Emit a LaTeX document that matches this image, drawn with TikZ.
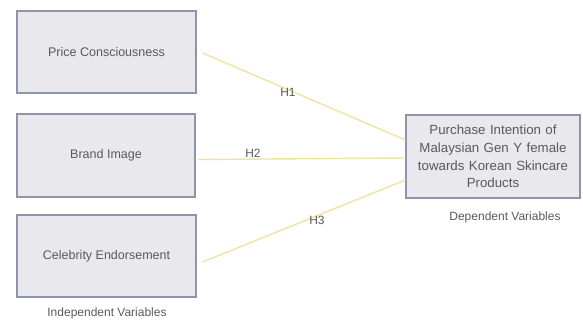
\documentclass[tikz,border=0pt]{standalone}
\usepackage{fontspec}
\setmainfont{Liberation Sans}
\usetikzlibrary{calc}
\definecolor{boxfill}{HTML}{E9E8EC}
\definecolor{boxline}{HTML}{8E94AC}
\definecolor{txt}{HTML}{5A5A5A}
\definecolor{link}{HTML}{EFE3A2}
\tikzset{
  varbox/.style={draw=boxline, line width=1.2pt, fill=boxfill, inner sep=0pt,
    text=txt, font=\fontsize{12.5}{15}\selectfont, align=center},
  lbl/.style={text=txt, font=\fontsize{12}{14}\selectfont, inner sep=1pt},
  hlink/.style={draw=link, line width=1.4pt}
}
\begin{document}
\begin{tikzpicture}[x=1pt,y=-1pt]
\useasboundingbox (0,0) rectangle (583,324);
\node[varbox, minimum width=179pt, minimum height=82pt] (b1) at (106.5,52) {Price Consciousness};
\node[varbox, minimum width=178pt, minimum height=83pt] (b2) at (106,155.5) {Brand Image};
\node[varbox, minimum width=179pt, minimum height=82pt] (b3) at (106.5,256) {Celebrity Endorsement};
\node[varbox, minimum width=174pt, minimum height=83pt, text width=172pt,
  font=\fontsize{13.3}{17.7}\selectfont] (t) at (493,156.5)
  {Purchase Intention of\\Malaysian Gen Y female\\towards Korean Skincare\\Products};
\node[lbl] (iv) at (107,313) {Independent Variables};
\node[lbl] (dv) at (505,217) {Dependent Variables};
\coordinate (s1) at ($(b1.east)+(6,1)$);
\coordinate (s2) at ($(b2.east)+(2,4)$);
\coordinate (s3) at ($(b3.east)+(6,6)$);
\coordinate (e1) at ($(t.west)+(0,-16.5)$);
\coordinate (e2) at ($(t.west)+(0,1.5)$);
\coordinate (e3) at ($(t.west)+(0,23.5)$);
\draw[hlink] (s1) -- (e1);
\draw[hlink] (s2) -- (e2);
\draw[hlink] (s3) -- (e3);
\node[lbl] (h1) at (288,92) {H1};
\node[lbl] (h2) at (253,153) {H2};
\node[lbl] (h3) at (317,220) {H3};
\end{tikzpicture}
\end{document}
